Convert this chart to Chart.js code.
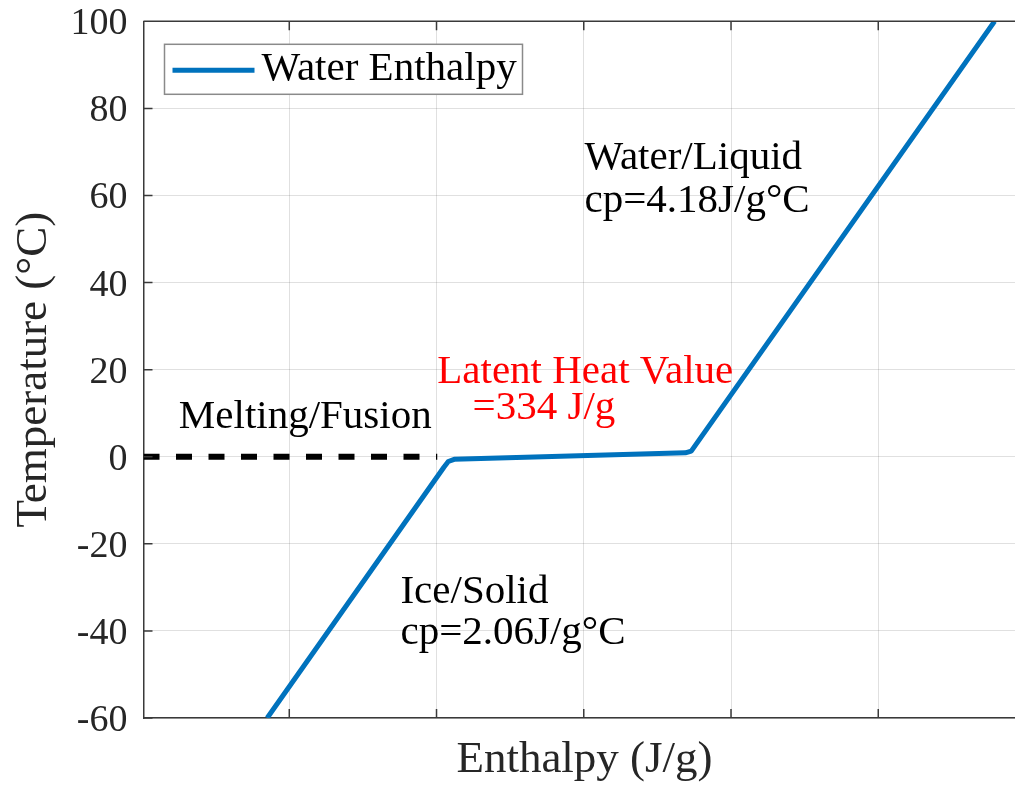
<!DOCTYPE html>
<html>
<head>
<meta charset="utf-8">
<script src="https://cdn.jsdelivr.net/npm/chart.js@4/dist/chart.umd.min.js"></script>
<style>
  html, body { margin: 0; padding: 0; background: #fff; overflow: hidden; }
  #wrap { width: 1040px; height: 787px; }
</style>
</head>
<body>
<div id="wrap"><canvas id="chart" width="1040" height="787"></canvas></div>
<script>
// water enthalpy curve (x units: J/g, arbitrary origin)
const enthalpy = [-30, 210, 216, 224, 538, 546, 958];
const temperature = [-60, -2.4, -1.1, -0.6, 0.9, 1.3, 100];

// dashed melting line at 0 °C
const meltEnthalpy = [-198, 201];
const meltTemperature = [0, 0];

const xTicks = [0, 200, 400, 600, 800];
const yTicks = [-60, -40, -20, 0, 20, 40, 60, 80, 100];

// text notes, anchored in data units (left / baseline)
const noteText = ['Water/Liquid', 'cp=4.18J/g°C', 'Latent Heat Value', '=334 J/g', 'Melting/Fusion', 'Ice/Solid', 'cp=2.06J/g°C'];
const noteX = [401, 401, 201, 249, -150, 151, 151];
const noteY = [66, 56.3, 16.9, 8.6, 6.6, -33.5, -43];
const noteColor = ['#000000', '#000000', '#ff0000', '#ff0000', '#000000', '#000000', '#000000'];

const SERIF = "'Liberation Serif', 'Times New Roman', serif";
const BLUE = '#0072BD';
const AXIS = '#3a3a3a';

const toPoints = (xs, ys) => xs.map((x, i) => ({ x: x, y: ys[i] }));

// notes drawn through the scales
const notes = {
  id: 'notes',
  afterDatasetsDraw(chart) {
    const ctx = chart.ctx;
    const xs = chart.scales.x, ys = chart.scales.y;
    ctx.save();
    ctx.font = '41px ' + SERIF;
    ctx.textAlign = 'left';
    ctx.textBaseline = 'alphabetic';
    noteText.forEach((t, i) => {
      ctx.fillStyle = noteColor[i];
      ctx.fillText(t, xs.getPixelForValue(noteX[i]), ys.getPixelForValue(noteY[i]));
    });
    ctx.restore();
  }
};

// top border, inward tick marks and the boxed legend
const frame = {
  id: 'frame',
  afterDraw(chart) {
    const ctx = chart.ctx;
    const a = chart.chartArea;
    const xs = chart.scales.x, ys = chart.scales.y;
    ctx.save();
    ctx.strokeStyle = AXIS;
    ctx.lineWidth = 1.5;
    ctx.beginPath();
    ctx.moveTo(a.left, a.top);
    ctx.lineTo(a.right, a.top);
    xs.ticks.forEach(t => {
      const px = xs.getPixelForValue(t.value);
      ctx.moveTo(px, a.bottom);
      ctx.lineTo(px, a.bottom - 9);
      ctx.moveTo(px, a.top);
      ctx.lineTo(px, a.top + 9);
    });
    ys.ticks.forEach(t => {
      const py = ys.getPixelForValue(t.value);
      ctx.moveTo(a.left, py);
      ctx.lineTo(a.left + 9, py);
    });
    ctx.stroke();

    // legend
    const ds = chart.data.datasets[0];
    const lx = a.left + 21, ly = a.top + 23;
    ctx.fillStyle = '#ffffff';
    ctx.fillRect(lx, ly, 358, 50);
    ctx.strokeStyle = '#8a8a8a';
    ctx.lineWidth = 1.5;
    ctx.strokeRect(lx, ly, 358, 50);
    ctx.strokeStyle = ds.borderColor;
    ctx.lineWidth = ds.borderWidth;
    ctx.beginPath();
    ctx.moveTo(lx + 8, ly + 26);
    ctx.lineTo(lx + 90, ly + 26);
    ctx.stroke();
    ctx.fillStyle = '#000000';
    ctx.font = '41px ' + SERIF;
    ctx.textBaseline = 'alphabetic';
    ctx.fillText(ds.label, lx + 97, ly + 36);
    ctx.restore();
  }
};

const chart = new Chart(document.getElementById('chart').getContext('2d'), {
  type: 'line',
  data: {
    datasets: [{
      label: 'Water Enthalpy',
      data: toPoints(enthalpy, temperature),
      borderColor: BLUE,
      borderWidth: 5,
      pointRadius: 0,
      tension: 0,
      borderJoinStyle: 'round',
      order: 1
    }, {
      label: 'Melting',
      data: toPoints(meltEnthalpy, meltTemperature),
      borderColor: '#000000',
      borderWidth: 6,
      borderDash: [16, 16.5],
      pointRadius: 0,
      order: 2
    }]
  },
  options: {
    responsive: false,
    animation: false,
    layout: { padding: { top: 21.3, right: 14.5, bottom: 0, left: 0 } },
    plugins: {
      legend: { display: false },
      tooltip: { enabled: false }
    },
    scales: {
      x: {
        type: 'linear',
        min: -198,
        max: 1000,
        afterBuildTicks: s => { s.ticks = xTicks.map(v => ({ value: v })); },
        afterFit: s => { s.paddingLeft = 0; s.paddingRight = 0; },
        ticks: { display: false },
        grid: { color: 'rgba(38,38,38,0.14)', drawTicks: false },
        border: { color: AXIS, width: 1.5 },
        title: {
          display: true,
          text: 'Enthalpy (J/g)',
          color: '#262626',
          font: { family: SERIF, size: 45, lineHeight: 1.2 },
          padding: { top: 15, bottom: 0 }
        }
      },
      y: {
        type: 'linear',
        min: -60,
        max: 100,
        afterBuildTicks: s => { s.ticks = yTicks.map(v => ({ value: v })); },
        afterFit: s => { s.width = 143.5; s.paddingTop = 0; s.paddingBottom = 0; },
        ticks: {
          color: '#262626',
          padding: 16,
          labelOffset: 3,
          font: { family: SERIF, size: 38, lineHeight: 1 },
          callback: v => String(v)
        },
        grid: { color: 'rgba(38,38,38,0.14)', drawTicks: false },
        border: { color: AXIS, width: 1.5 },
        title: {
          display: true,
          text: 'Temperature (°C)',
          color: '#262626',
          font: { family: SERIF, size: 45, lineHeight: 1.2 },
          padding: { top: 7, bottom: 0 }
        }
      }
    }
  },
  plugins: [notes, frame]
});
</script>
</body>
</html>
